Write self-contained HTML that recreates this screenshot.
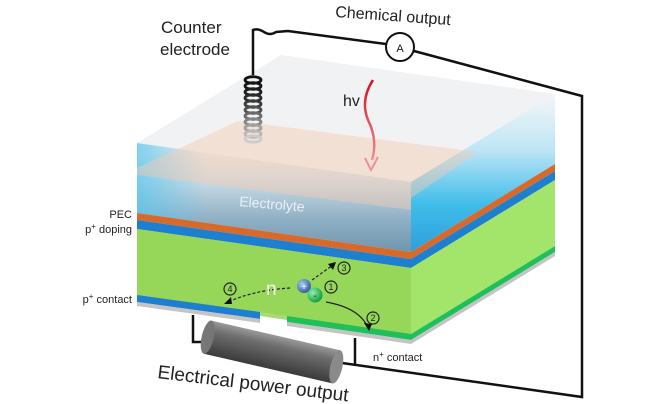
<!DOCTYPE html>
<html><head><meta charset="utf-8"><style>
html,body{margin:0;padding:0;background:#fff;}
svg{display:block;}
text{font-family:"Liberation Sans","DejaVu Sans",sans-serif;}
</style></head><body>
<svg width="650" height="404" viewBox="0 0 650 404" xmlns="http://www.w3.org/2000/svg">
<defs>
<linearGradient id="fr" x1="0" y1="0" x2="0" y2="1">
<stop offset="0" stop-color="#f4eeec"/><stop offset="0.35" stop-color="#c9dbe6"/><stop offset="0.7" stop-color="#8fb0c4"/><stop offset="1" stop-color="#6f95ad"/></linearGradient>
<linearGradient id="frl" x1="0" y1="0" x2="1" y2="0">
<stop offset="0" stop-color="#55c5ef" stop-opacity="0.7"/><stop offset="0.25" stop-color="#55c5ef" stop-opacity="0"/></linearGradient>
<linearGradient id="rt" x1="0" y1="0" x2="0" y2="1">
<stop offset="0" stop-color="#f4f6f8"/><stop offset="0.35" stop-color="#bfe6f6"/><stop offset="0.7" stop-color="#3fbdea"/><stop offset="1" stop-color="#2e9fdc"/></linearGradient>
<linearGradient id="cyl" x1="0" y1="0" x2="0" y2="1">
<stop offset="0" stop-color="#9a9a9a"/><stop offset="0.3" stop-color="#6e6e6e"/><stop offset="1" stop-color="#3a3a3a"/></linearGradient>
<linearGradient id="wave" x1="0" y1="0" x2="0" y2="1">
<stop offset="0" stop-color="#d0101e"/><stop offset="1" stop-color="#f08f98"/></linearGradient>
<radialGradient id="bp" cx="0.35" cy="0.35" r="0.7"><stop offset="0" stop-color="#a8c8ee"/><stop offset="1" stop-color="#2e5c9a"/></radialGradient>
<radialGradient id="gp" cx="0.35" cy="0.35" r="0.7"><stop offset="0" stop-color="#8ff0a8"/><stop offset="1" stop-color="#0f9a3a"/></radialGradient>
</defs>

<polygon points="137,143 281,55 555,94 411,182" fill="#f1f2f4"/>
<polygon points="137,143 411,182 411,252 137,213" fill="url(#fr)"/>
<polygon points="137,143 411,182 411,252 137,213" fill="url(#frl)"/>
<polygon points="411,182 555,94 555,164 411,252" fill="url(#rt)"/>
<polygon points="137,168 238,121 478,152 411,198 411,210 137,175" fill="#f6c9b0" opacity="0.45"/>

<polygon points="137,213 411,252 411,259 137,220" fill="#d7692a"/>
<polygon points="137,220 411,259 411,268 137,229" fill="#1f7fcf"/>
<polygon points="137,229 411,268 411,336 137,297" fill="#96d75a"/>
<polygon points="411,252 555,164 555,171 411,259" fill="#d7692a"/>
<polygon points="411,259 555,171 555,180 411,268" fill="#1f7fcf"/>
<polygon points="411,268 555,180 555,246 411,334" fill="#a3e46a"/>
<polygon points="411,334 555,246 555,252 411,340" fill="#1fbf5a"/>
<polygon points="411,340 555,252 555,256 411,344" fill="#c4c4c4"/>
<polygon points="137,295 260,312 260,319 137,302" fill="#1f7fcf"/>
<polygon points="137,302 260,319 260,323 137,306" fill="#c4c4c4"/>
<polygon points="287,316 411,334 411,340 287,322" fill="#1fbf5a"/>
<polygon points="287,322 411,340 411,344 287,326" fill="#c4c4c4"/>
<polygon points="260,312 287,316 287,320 260,316" fill="#a8dc78"/>

<g fill="none" stroke="#111" stroke-width="2.5">
<path d="M253,75 L253,30 Q258,28 264,32 Q270,36 276,32 L288,31 L386,44"/>
<path d="M414,51 L582,96 L582,397 L335,362"/>
<path d="M193,315 L193,342 L206,342"/>
<path d="M355,338 L355,366"/>
</g>
<circle cx="400" cy="47" r="14" fill="#fff" stroke="#111" stroke-width="2"/>
<text x="400" y="52" font-size="11" text-anchor="middle" fill="#111">A</text>

<g fill="none" stroke-width="2.8">
<ellipse cx="253" cy="80" rx="8" ry="3.3" stroke="#111"/>
<ellipse cx="253" cy="86" rx="8" ry="3.3" stroke="#151515"/>
<ellipse cx="253" cy="92" rx="8" ry="3.3" stroke="#1e1e1e"/>
<ellipse cx="253" cy="98" rx="8" ry="3.3" stroke="#2a2a2a"/>
<ellipse cx="253" cy="104" rx="8" ry="3.3" stroke="#3a3a3a"/>
<ellipse cx="253" cy="110" rx="8" ry="3.3" stroke="#505050"/>
<ellipse cx="253" cy="116" rx="8" ry="3.3" stroke="#6a6a6a"/>
<ellipse cx="253" cy="122" rx="8" ry="3.3" stroke="#858585"/>
<ellipse cx="253" cy="128" rx="8" ry="3.3" stroke="#a0a0a0"/>
<ellipse cx="253" cy="134" rx="8" ry="3.3" stroke="#b8b8b8"/>
<ellipse cx="253" cy="139" rx="8" ry="3.3" stroke="#cccccc"/>
</g>

<path d="M373,80 Q360,100 368,120 Q378,140 372,160" fill="none" stroke="url(#wave)" stroke-width="2.5"/>
<path d="M365,158 L371,170 L378,157" fill="none" stroke="#f08f98" stroke-width="2"/>
<text x="343" y="106" font-size="16" fill="#222">hv</text>

<g transform="translate(272,352) rotate(13)">
<rect x="-66" y="-17" width="132" height="34" fill="url(#cyl)"/>
<ellipse cx="-66" cy="0" rx="6" ry="17" fill="#777"/>
<ellipse cx="66" cy="0" rx="6" ry="17" fill="#8a8a8a"/>
</g>

<g fill="none" stroke="#222" stroke-width="1.2">
<path d="M290,288 Q255,290 228,302" stroke-dasharray="3,2"/>
<path d="M312,280 L333,265" stroke-dasharray="3,2"/>
<path d="M326,302 Q360,308 368,328"/>
<circle cx="344" cy="268" r="6"/>
<circle cx="331" cy="287" r="6"/>
<circle cx="230" cy="289" r="6"/>
<circle cx="373" cy="318" r="6"/>
</g>
<polygon points="224,304 231,297 232,304" fill="#111"/>
<polygon points="336,262 328,264 333,270" fill="#111"/>
<polygon points="369,331 364,323 372,324" fill="#111"/>
<g font-size="9" fill="#222" text-anchor="middle">
<text x="344" y="271">3</text><text x="331" y="290">1</text><text x="230" y="292">4</text><text x="373" y="321">2</text>
</g>
<circle cx="304" cy="286" r="7" fill="url(#bp)"/>
<circle cx="315" cy="295" r="7.5" fill="url(#gp)"/>
<text x="304" y="290" font-size="10" fill="#fff" text-anchor="middle">+</text>
<text x="315" y="299" font-size="10" fill="#222" text-anchor="middle">-</text>
<text x="266" y="295" font-size="19" fill="#f2f6ee">n</text>

<text x="161" y="33" font-size="17" fill="#222">Counter</text>
<text x="160" y="55" font-size="17" fill="#222">electrode</text>
<text x="335" y="17" font-size="16" fill="#222" transform="rotate(4 335 17)">Chemical output</text>
<text x="239" y="206" font-size="14" fill="#e8f1f8" transform="rotate(5 239 206)">Electrolyte</text>
<g font-size="11" fill="#222" text-anchor="end">
<text x="132" y="218">PEC</text>
<text x="132" y="233">p<tspan font-size="8" dy="-4">+</tspan><tspan dy="4"> doping</tspan></text>
<text x="132" y="303">p<tspan font-size="8" dy="-4">+</tspan><tspan dy="4"> contact</tspan></text>
</g>
<text x="373" y="361" font-size="11" fill="#222">n<tspan font-size="8" dy="-4">+</tspan><tspan dy="4"> contact</tspan></text>
<text x="157" y="378" font-size="19" fill="#222" transform="rotate(7 157 378)">Electrical power output</text>
</svg>
</body></html>
